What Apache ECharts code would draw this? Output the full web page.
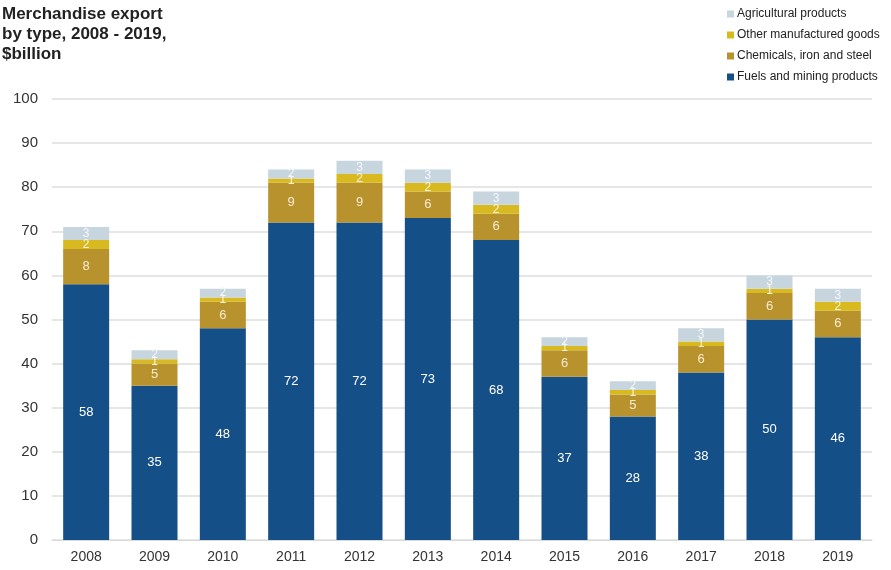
<!DOCTYPE html>
<html>
<head>
<meta charset="utf-8">
<script src="https://cdn.jsdelivr.net/npm/echarts@6/dist/echarts.min.js"></script>
<style>
  html, body { margin: 0; padding: 0; background: #fff; }
  #chart { width: 891px; height: 570px; }
</style>
</head>
<body>
<div id="chart"></div>
<script>
// Merchandise export by type, $billion
const years = ['2008','2009','2010','2011','2012','2013','2014','2015','2016','2017','2018','2019'];
const fuelsMining = [58, 35, 48, 72, 72, 73, 68, 37, 28, 38, 50, 46];
const chemicalsIronSteel = [8, 5, 6, 9, 9, 6, 6, 6, 5, 6, 6, 6];
const otherManufactured = [2, 1, 1, 1, 2, 2, 2, 1, 1, 1, 1, 2];
const agricultural = [3, 2, 2, 2, 3, 3, 3, 2, 2, 3, 3, 3];
const yTicks = [0, 10, 20, 30, 40, 50, 60, 70, 80, 90, 100];

const FONT = '"Liberation Sans", Arial, sans-serif';

function bar(name, data, color, labelColor, fontSize) {
  return {
    name: name,
    type: 'bar',
    stack: 'total',
    data: data,
    barWidth: 46,
    itemStyle: { color: color },
    label: {
      show: true,
      position: 'inside',
      color: labelColor,
      fontFamily: FONT,
      fontSize: fontSize
    }
  };
}

const chart = echarts.init(document.getElementById('chart'));
chart.setOption({
  animation: false,
  backgroundColor: '#ffffff',
  title: {
    text: 'Merchandise export\nby type, 2008 - 2019,\n$billion',
    left: 2,
    top: 4,
    padding: 0,
    textStyle: {
      fontFamily: FONT,
      fontSize: 17,
      fontWeight: 'bold',
      color: '#222',
      lineHeight: 20
    }
  },
  legend: {
    orient: 'vertical',
    left: 722,
    top: 3,
    itemWidth: 7,
    itemHeight: 7,
    itemGap: 9,
    icon: 'rect',
    data: ['Agricultural products', 'Other manufactured goods', 'Chemicals, iron and steel', 'Fuels and mining products'],
    textStyle: { fontFamily: FONT, fontSize: 12, color: '#222', padding: [0, 0, 0, -2] }
  },
  grid: { left: 52, right: 19, top: 99, bottom: 30, containLabel: false },
  xAxis: {
    type: 'category',
    data: years,
    axisLine: { show: true, lineStyle: { color: '#d9d9d9', width: 1 } },
    axisTick: { show: false },
    axisLabel: { fontFamily: FONT, fontSize: 14, color: '#333', margin: 10 }
  },
  yAxis: {
    type: 'value',
    min: yTicks[0],
    max: yTicks[yTicks.length - 1],
    interval: 10,
    axisLine: { show: false },
    axisTick: { show: false },
    axisLabel: { fontFamily: FONT, fontSize: 15, color: '#333', margin: 14 },
    splitLine: { lineStyle: { color: '#dedede', width: 1.5 } }
  },
  series: [
    bar('Fuels and mining products', fuelsMining, '#154f87', '#ffffff', 13),
    bar('Chemicals, iron and steel', chemicalsIronSteel, '#b8922c', '#f6ecd0', 13),
    bar('Other manufactured goods', otherManufactured, '#d8b91f', '#fbf4d8', 12),
    bar('Agricultural products', agricultural, '#c7d5df', '#f4f7fa', 12)
  ]
});
</script>
</body>
</html>
